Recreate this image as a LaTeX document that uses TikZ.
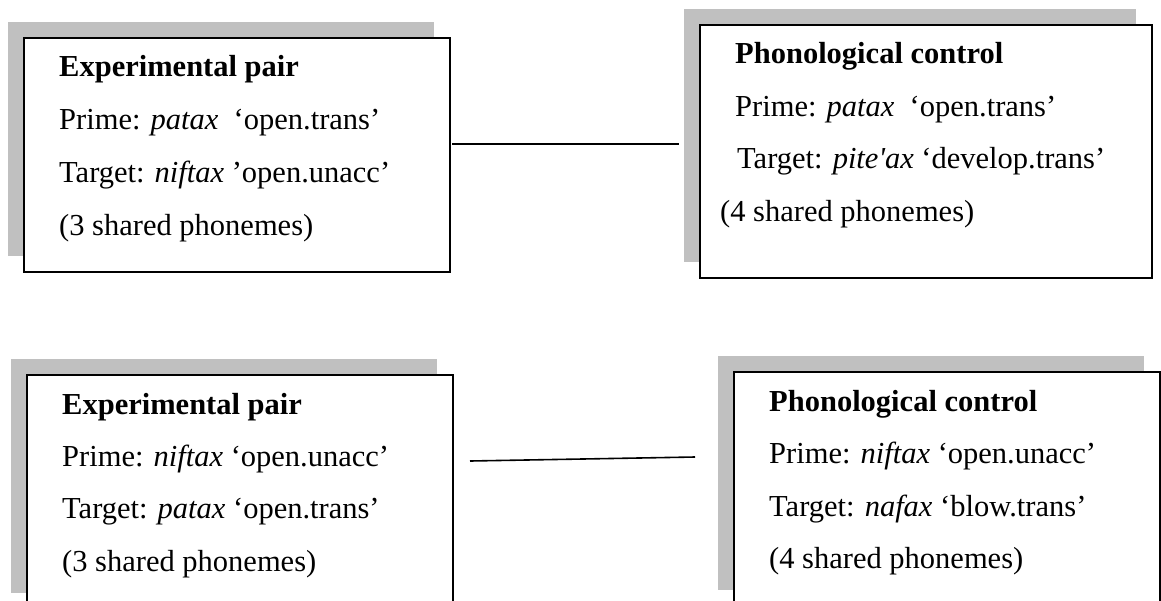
\documentclass[tikz,border=0pt]{standalone}
\usepackage{fontspec}
\defaultfontfeatures[\rmfamily]{}
\setmainfont{Liberation Serif}
\usetikzlibrary{shadows}
\definecolor{shadowgrey}{HTML}{C0C0C0}
\begin{document}
\begin{tikzpicture}[x=1pt,y=-1pt,
  pairbox/.style={draw, line width=1.6pt, fill=white, anchor=north west, inner sep=0pt,
    minimum width=426pt, minimum height=234pt,
    drop shadow={shadow xshift=-16pt, shadow yshift=16pt, fill=shadowgrey, opacity=1}},
  txt/.style={anchor=base west, inner sep=0pt, font=\fontsize{30.5}{36}\selectfont},
  link/.style={line width=1.6pt}]
\useasboundingbox (0,0) rectangle (1161,600);
\clip (0,0) rectangle (1161,600);
% top row
\node[pairbox] (exp1) at (23,37) {};
\node[txt] (exp1a) at (59,76) {\textbf{Experimental pair}};
\node[txt] (exp1b) at (59,129) {Prime: \textit{patax}\ \ ‘open.trans’};
\node[txt] (exp1c) at (59,182) {Target: \textit{niftax} ’open.unacc’};
\node[txt] (exp1d) at (59,235) {(3 shared phonemes)};
\node[pairbox, minimum width=452pt, minimum height=253pt] (con1) at (699,24) {};
\node[txt] (con1a) at (735,63) {\textbf{Phonological control}};
\node[txt] (con1b) at (735,116) {Prime: \textit{patax}\ \ ‘open.trans’};
\node[txt] (con1c) at (737,168) {Target: \textit{pite'ax} ‘develop.trans’};
\node[txt] (con1d) at (720,221) {(4 shared phonemes)};
\coordinate (l1a) at (452,144);
\coordinate (l1b) at (679,144);
\draw[link] (l1a) -- (l1b);
% bottom row
\node[pairbox] (exp2) at (26,374) {};
\node[txt] (exp2a) at (62,414) {\textbf{Experimental pair}};
\node[txt] (exp2b) at (62,466) {Prime: \textit{niftax} ‘open.unacc’};
\node[txt] (exp2c) at (62,518) {Target: \textit{patax} ‘open.trans’};
\node[txt] (exp2d) at (62,571) {(3 shared phonemes)};
\node[pairbox] (con2) at (733,371) {};
\node[txt] (con2a) at (769,411) {\textbf{Phonological control}};
\node[txt] (con2b) at (769,463) {Prime: \textit{niftax} ‘open.unacc’};
\node[txt] (con2c) at (769,516) {Target: \textit{nafax} ‘blow.trans’};
\node[txt] (con2d) at (769,568) {(4 shared phonemes)};
\coordinate (l2a) at (470,461);
\coordinate (l2b) at (695,457);
\draw[link] (l2a) -- (l2b);
\end{tikzpicture}
\end{document}
